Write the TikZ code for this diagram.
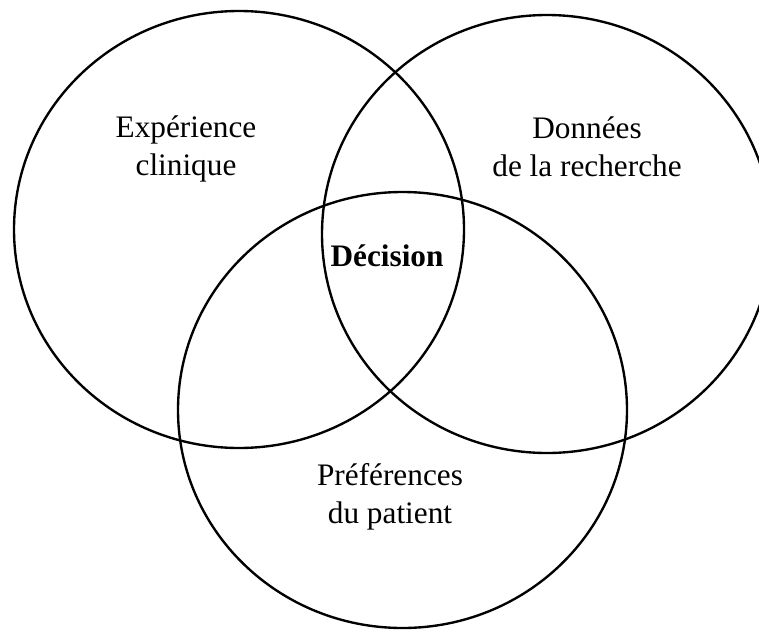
\documentclass[tikz,border=0pt]{standalone}
\usepackage{fontspec}
\setmainfont{Liberation Serif}
\usepackage{tikz}

\begin{document}
\begin{tikzpicture}[
        venntext/.style={align=center, font=\fontsize{17.8}{21.5}\selectfont},
        ring/.style={line width=1.35pt}
    ]

        % Fix the page size
        \useasboundingbox (0,0) rectangle (15.18,12.6);

        % Left circle
        \draw[ring] (4.78,8.01) ellipse (4.50cm and 4.37cm);
        \node[venntext] (exp) at (3.72,9.62) {Expérience\\clinique};

        % Right circle
        \draw[ring] (10.94,7.92) ellipse (4.50cm and 4.38cm);
        \node[venntext] (don) at (11.74,9.66) {Données\\de la recherche};

        % Bottom circle
        \draw[ring] (8.05,4.40) ellipse (4.49cm and 4.36cm);
        \node[venntext] (pref) at (7.80,2.66) {Préférences\\du patient};

        % Centre
        \node[venntext, font=\fontsize{17.8}{21.5}\selectfont\bfseries] (dec) at (7.74,7.48) {Décision};
    \end{tikzpicture}
\end{document}
